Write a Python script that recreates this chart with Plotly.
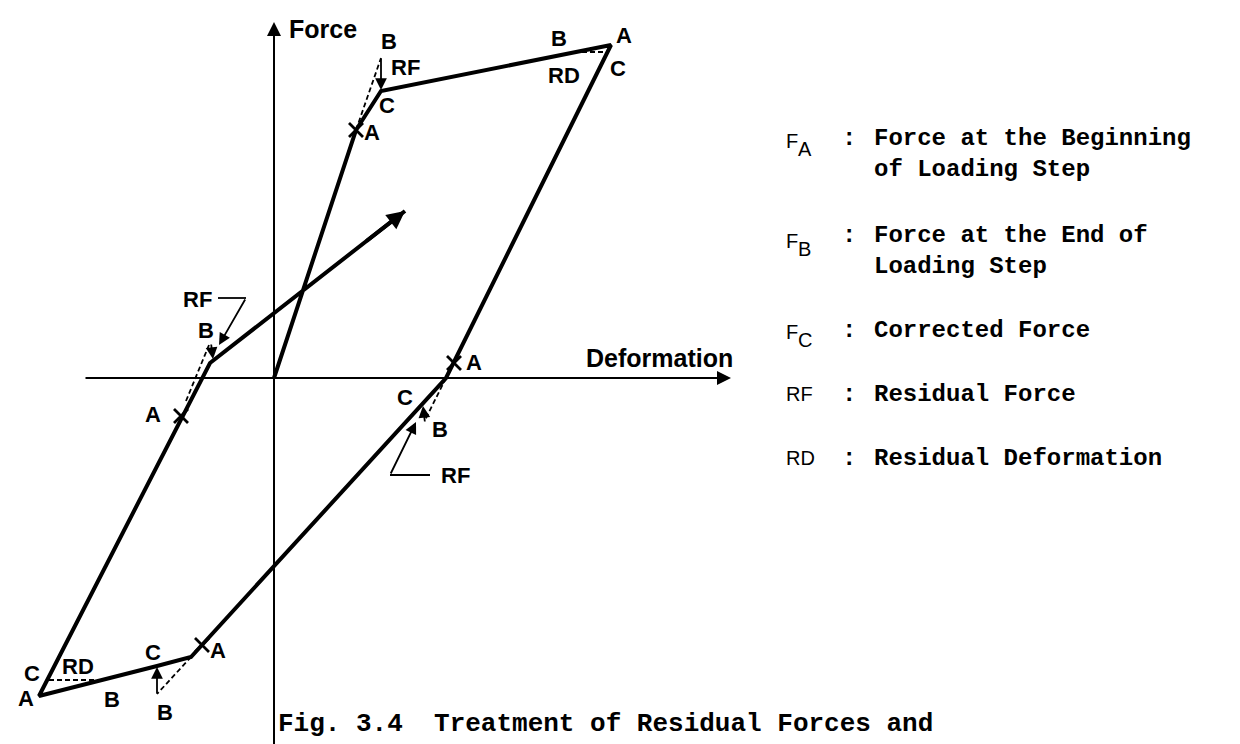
import plotly.graph_objects as go

# ---------------- data (deformation, force) relative to the axes origin ----------------
# main hysteresis path: O -> A -> C -> A(peak) -> unloading -> reverse branch -> A(neg peak) -> reload
path_deformation = [0, 82, 107, 337, 172, -72, -83, -117, -235, -64, 131]
path_force = [0, 248, 287, 333, 0, -267, -279, -288, -318, 15, 167]

# points "A" marked with a cross (beginning of loading step)
cross_deformation = [82, 180, -72, -93]
cross_force = [248, 15, -267, -38]

# dashed segments (trial step A->B and residual deformation B->C)
dash_start_deformation = [82, 300, 172, -72, -172, -88]
dash_start_force = [248, 326, 0, -267, -302, -23]
dash_end_deformation = [107, 333, 151, -117, -227, -65]
dash_end_force = [320, 326, -42, -316, -302, 33]

# residual force arrows (B -> C)
rf_from_deformation = [107, 151, -117, -63]
rf_from_force = [321, -45, -317, 35]
rf_to_deformation = [107, 149, -117, -61]
rf_to_force = [288, -28, -289, 19]

# axes extent
axis_x_min, axis_x_max = -190, 457
axis_y_min, axis_y_max = -380, 356

# legend entries
legend_symbols = [("F", "A"), ("F", "B"), ("F", "C"), ("RF", ""), ("RD", "")]
legend_lines = [
    ["Force at the Beginning", "of Loading Step"],
    ["Force at the End of", "Loading Step"],
    ["Corrected Force"],
    ["Residual Force"],
    ["Residual Deformation"],
]
caption_text = "Fig. 3.4  Treatment of Residual Forces and"

# point labels
point_labels = ["B", "RF", "C", "A", "B", "A", "RD", "C",
                "RF", "B", "A", "A", "C", "B", "RF",
                "C", "A", "B", "B", "RD", "C", "A"]

# ---------------- layout helpers ----------------
W, H = 1240, 744
OX, OY = 266, 370  # pixel position of origin


def P(px, py):
    return px - OX, OY - py


label_pos_px = [(381, 33), (397, 59), (379, 97), (364, 124), (551, 30), (616, 27), (556, 67), (610, 60),
                (189, 291), (198, 322), (145, 406), (466, 354), (397, 389), (432, 421), (447, 467),
                (145, 644), (210, 642), (157, 704), (104, 691), (70, 658), (24, 665), (18, 690)]

SANS = "Liberation Sans, Arial, sans-serif"
MONO = "Liberation Mono, Courier New, monospace"
INK = "#000000"

fig = go.Figure()

# main path
fig.add_trace(go.Scatter(x=path_deformation, y=path_force, mode="lines",
                         line=dict(color=INK, width=4), hoverinfo="skip"))

# dashed segments
for xs, ys, xe, ye in zip(dash_start_deformation, dash_start_force, dash_end_deformation, dash_end_force):
    fig.add_trace(go.Scatter(x=[xs, xe], y=[ys, ye], mode="lines",
                             line=dict(color=INK, width=1.8, dash="5px,3px"), hoverinfo="skip"))

# crosses
fig.add_trace(go.Scatter(x=cross_deformation, y=cross_force, mode="markers",
                         marker=dict(symbol="x-thin", size=14, line=dict(color=INK, width=2.8)),
                         hoverinfo="skip"))

annotations = []

# axes with arrowheads
annotations.append(dict(x=axis_x_max, y=0, ax=axis_x_min, ay=0, xref="x", yref="y", axref="x", ayref="y",
                        showarrow=True, arrowhead=2, arrowsize=1.4, arrowwidth=2, arrowcolor=INK, text=""))
annotations.append(dict(x=0, y=axis_y_max, ax=0, ay=axis_y_min, xref="x", yref="y", axref="x", ayref="y",
                        showarrow=True, arrowhead=2, arrowsize=1.4, arrowwidth=2, arrowcolor=INK, text=""))

# reload arrowhead at end of path
slope = (path_force[-1] - path_force[-2]) / (path_deformation[-1] - path_deformation[-2])
annotations.append(dict(x=path_deformation[-1], y=path_force[-1], ax=path_deformation[-1] - 40,
                        ay=path_force[-1] - 40 * slope,
                        xref="x", yref="y", axref="x", ayref="y",
                        showarrow=True, arrowhead=2, arrowsize=0.9, arrowwidth=4, arrowcolor=INK, text=""))

# residual force arrows
for xf, yf, xt, yt in zip(rf_from_deformation, rf_from_force, rf_to_deformation, rf_to_force):
    annotations.append(dict(x=xt, y=yt, ax=xf, ay=yf, xref="x", yref="y", axref="x", ayref="y",
                            showarrow=True, arrowhead=2, arrowsize=1.3, arrowwidth=1.8, arrowcolor=INK, text=""))

# RF leader lines
lx, ly = P(238, 290)
lx0, ly0 = P(210, 290)
fig.add_trace(go.Scatter(x=[lx0, lx], y=[ly0, ly], mode="lines", line=dict(color=INK, width=1.8), hoverinfo="skip"))
tx, ty = P(211, 337)
annotations.append(dict(x=tx, y=ty, ax=lx, ay=ly, xref="x", yref="y", axref="x", ayref="y",
                        showarrow=True, arrowhead=2, arrowsize=1.3, arrowwidth=1.8, arrowcolor=INK, text=""))
bx0, by0 = P(382, 467)
bx1, by1 = P(422, 467)
fig.add_trace(go.Scatter(x=[bx0, bx1], y=[by0, by1], mode="lines", line=dict(color=INK, width=1.8), hoverinfo="skip"))
tx, ty = P(408, 414)
annotations.append(dict(x=tx, y=ty, ax=bx0, ay=by0, xref="x", yref="y", axref="x", ayref="y",
                        showarrow=True, arrowhead=2, arrowsize=1.3, arrowwidth=1.8, arrowcolor=INK, text=""))

# point labels
for t, (px, py) in zip(point_labels, label_pos_px):
    x, y = P(px, py)
    annotations.append(dict(x=x, y=y, xref="x", yref="y", text=t, showarrow=False,
                            font=dict(family=SANS, size=22, color=INK, weight="bold"),
                            xanchor="center", yanchor="middle"))

# axis titles
x, y = P(315, 21)
annotations.append(dict(x=x, y=y, xref="x", yref="y", text="Force", showarrow=False,
                        font=dict(family=SANS, size=25, color=INK, weight="bold"), xanchor="center", yanchor="middle"))
x, y = P(576, 350)
annotations.append(dict(x=x, y=y, xref="x", yref="y", text="Deformation", showarrow=False,
                        font=dict(family=SANS, size=25, color=INK, weight="bold"), xanchor="left", yanchor="middle"))

# legend
sym_y = [133, 233, 324, 386, 450]
line_y = [[130, 161], [227, 258], [322], [386], [450]]
for (s_main, s_sub), sy, lines, ys in zip(legend_symbols, sym_y, legend_lines, line_y):
    annotations.append(dict(x=776 / W, y=1 - sy / H, xref="paper", yref="paper", text=s_main, showarrow=False,
                            font=dict(family=SANS, size=20, color=INK), xanchor="left", yanchor="middle"))
    if s_sub:
        annotations.append(dict(x=788 / W, y=1 - (sy + 8) / H, xref="paper", yref="paper", text=s_sub,
                                showarrow=False, font=dict(family=SANS, size=20, color=INK),
                                xanchor="left", yanchor="middle"))
    annotations.append(dict(x=841 / W, y=1 - ys[0] / H, xref="paper", yref="paper", text=":", showarrow=False,
                            font=dict(family=MONO, size=24, color=INK, weight="bold"),
                            xanchor="center", yanchor="middle"))
    for ln, yy in zip(lines, ys):
        annotations.append(dict(x=864 / W, y=1 - yy / H, xref="paper", yref="paper", text=ln, showarrow=False,
                                font=dict(family=MONO, size=24, color=INK, weight="bold"),
                                xanchor="left", yanchor="middle"))

# caption
annotations.append(dict(x=268 / W, y=1 - 716 / H, xref="paper", yref="paper", text=caption_text, showarrow=False,
                        font=dict(family=MONO, size=26, color=INK, weight="bold"), xanchor="left", yanchor="middle"))

fig.update_layout(
    width=W, height=H,
    margin=dict(l=0, r=0, t=0, b=0),
    paper_bgcolor="white", plot_bgcolor="white",
    showlegend=False,
    xaxis=dict(range=[-OX, W - OX], visible=False, fixedrange=True),
    yaxis=dict(range=[OY - H, OY], visible=False, fixedrange=True),
    annotations=annotations,
)

fig.write_html("out.html")
